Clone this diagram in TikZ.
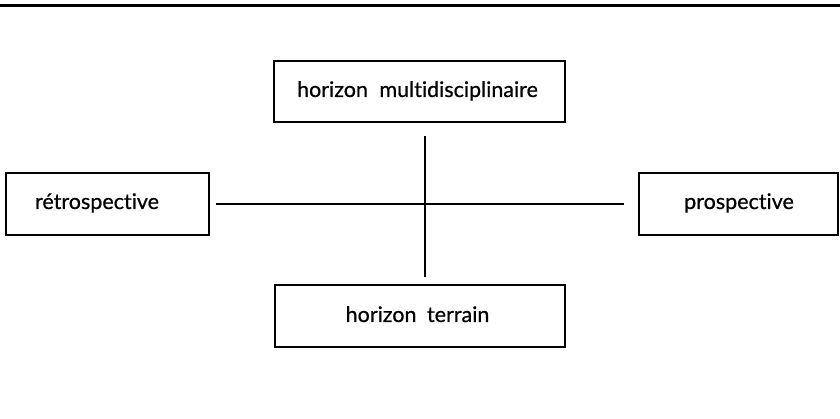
\documentclass[tikz,border=0pt]{standalone}
\usepackage{fontspec}
\setmainfont{Lato}[Ligatures=NoCommon, FakeBold=0.6]
\usetikzlibrary{calc}
\begin{document}
\begin{tikzpicture}[x=1pt,y=-1pt,
  box/.style={draw=black, line width=2.6pt, rectangle, inner sep=0pt},
  lbl/.style={font=\fontsize{21.5}{25}\selectfont, inner sep=0pt, anchor=base},
  conn/.style={draw=black, line width=2.8pt}]
\useasboundingbox (0,0) rectangle (840,419);
\fill[white] (0,0) rectangle (840,419);
% rule at top
\coordinate (rl) at (0,6);
\coordinate (rr) at (840,6);
\draw[line width=3pt] (rl) -- (rr);
% boxes
\node[box, minimum width=291pt, minimum height=61pt] (top) at (419.5,91.5) {};
\node[box, minimum width=203pt, minimum height=62pt] (retro) at (107.5,204) {};
\node[box, minimum width=199pt, minimum height=62pt] (pros) at (738.5,204) {};
\node[box, minimum width=290pt, minimum height=62pt] (bot) at (420,316) {};
% labels
\node[lbl] (ttop) at (417.5,97) {horizon\hspace{6pt} multidisciplinaire};
\node[lbl] (tretro) at (97,209) {rétrospective};
\node[lbl] (tpros) at (739,209) {prospective};
\node[lbl] (tbot) at (417.5,322) {horizon\hspace{5pt} terrain};
% connectors
\coordinate (c) at (425,205);
\draw[conn, shorten <=6pt, shorten >=14pt] (retro.east) -- (pros.west);
\draw[conn, shorten <=13pt, shorten >=7pt] (top.south -| c) -- (bot.north -| c);
\end{tikzpicture}
\end{document}
